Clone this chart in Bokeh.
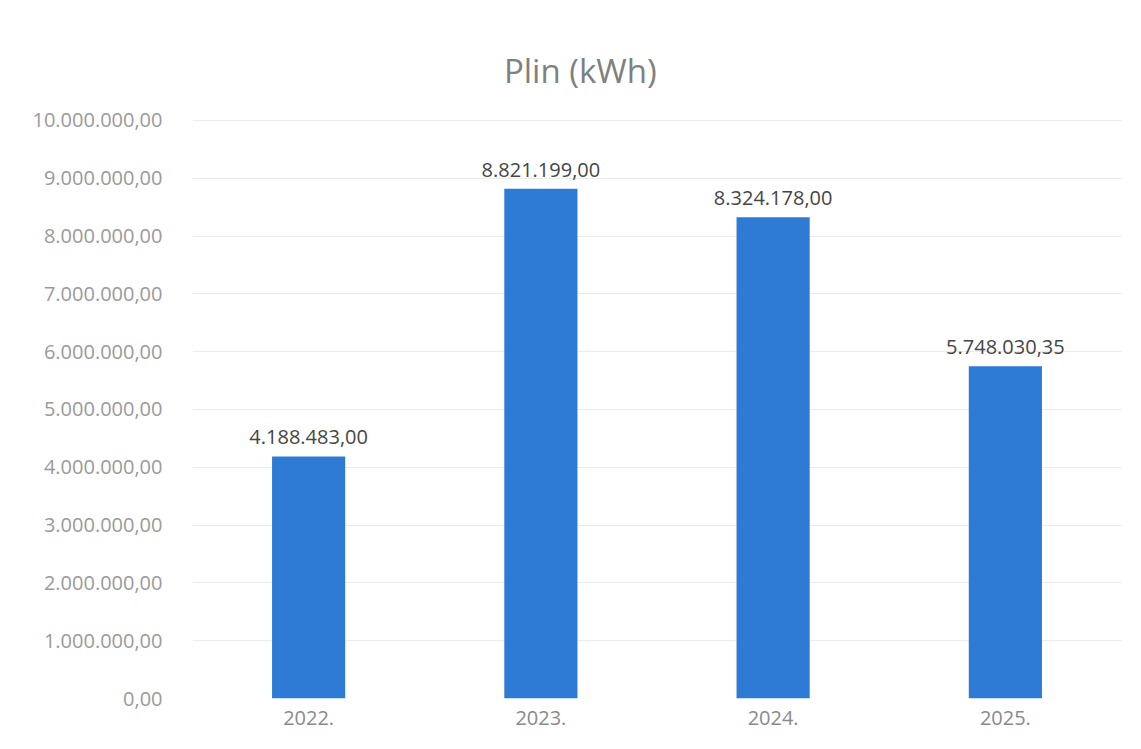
from bokeh.plotting import figure
from bokeh.models import FixedTicker, ColumnDataSource
from bokeh.core.properties import value
from bokeh.embed import file_html
from bokeh.resources import INLINE

years = ["2022.", "2023.", "2024.", "2025."]
plin = [4188483.00, 8821199.00, 8324178.00, 5748030.35]
y_ticks = [0, 1e6, 2e6, 3e6, 4e6, 5e6, 6e6, 7e6, 8e6, 9e6, 10e6]
title_text = "Plin (kWh)"


def eu(v):
    return f"{v:,.2f}".replace(",", "X").replace(".", ",").replace("X", ".")


FONT = "Open Sans"

p = figure(x_range=years, y_range=(0, 12.076e6), width=1125, height=733,
           output_backend="svg", toolbar_location=None,
           min_border_left=192, min_border_right=4,
           min_border_top=0, min_border_bottom=35)
p.outline_line_color = None
p.background_fill_color = "white"
p.border_fill_color = "white"

src = ColumnDataSource(dict(x=years, top=plin, lab=[eu(v) for v in plin]))
p.vbar(x="x", top="top", width=0.315, source=src,
       fill_color="#2E7BD6", line_color=None)

p.text(x="x", y="top", text="lab", source=src, text_align="center",
       text_baseline="alphabetic", y_offset=-19, text_font=value(FONT),
       text_font_size="20px", text_color="#454545")

p.text(x=[1.67], y=[10.865e6], text=[title_text], text_align="center",
       text_baseline="middle", text_font=value(FONT),
       text_font_size="33px", text_color="#808080")

p.yaxis.ticker = FixedTicker(ticks=y_ticks)
p.yaxis.major_label_overrides = {t: eu(t) for t in y_ticks}
for ax in (p.xaxis[0], p.yaxis[0]):
    ax.axis_line_color = None
    ax.major_tick_line_color = None
    ax.minor_tick_line_color = None
    ax.major_label_text_font = FONT
    ax.major_label_text_font_size = "20px"
p.yaxis.major_label_text_color = "#9a9a9a"
p.xaxis.major_label_text_color = "#8a8a8a"
p.yaxis.major_label_standoff = 24
p.xaxis.major_label_standoff = 6

p.xgrid.grid_line_color = None
p.ygrid.grid_line_color = "#ebebeb"
p.ygrid.grid_line_width = 1

open("out.html", "w").write(file_html(p, INLINE))
